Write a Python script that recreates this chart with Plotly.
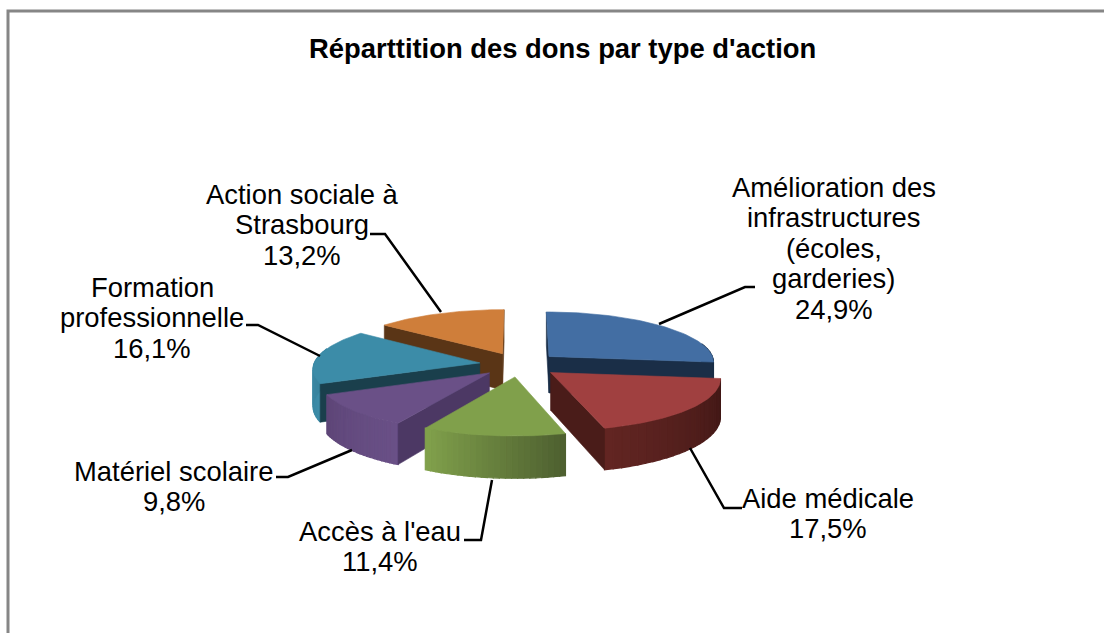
import math
import plotly.graph_objects as go

# --- data -----------------------------------------------------------------
title_text = "Réparttition des dons par type d'action"
categories = [["Amélioration des", "infrastructures", "(écoles,", "garderies)"], ["Aide médicale"],
              ["Accès à l'eau"], ["Matériel scolaire"], ["Formation", "professionnelle"],
              ["Action sociale à", "Strasbourg"]]
values = [24.9, 17.5, 11.4, 9.8, 16.1, 13.2]

top_colors = ["#436EA3", "#A04040", "#80A04B", "#6A5087", "#3C8CA8", "#CF7E3A"]
cut_colors = ["#1A2E47", "#4A1C19", "#4E6030", "#4C3864", "#1A3F4C", "#5A3516"]
side_from = ["#1A2E47", "#3F1715", "#4E6030", "#6A5087", "#3C8CA8", "#CF7E3A"]
side_to = ["#1A2E47", "#622522", "#80A04B", "#5E4678", "#357D96", "#5A3516"]
label_xy = [(833.5, 187), (828, 498), (380, 531), (173.5, 471), (152, 287), (302, 194)]
leaders = [
    [(659, 324), (745, 287), (755, 287)],
    [(690, 448), (724, 508), (742, 508)],
    [(492, 480), (481, 540), (464, 540)],
    [(352, 450), (288, 477), (276, 477)],
    [(320, 356), (258, 325), (246, 325)],
    [(441, 312), (385, 234), (370, 234)],
]

# --- pie geometry ---------------------------------------------------------
CX, CY = 519.5, 364.5
RX, RY = 166.0, 50.5
PERSP = 0.10
DEPTH = 37.0
EXPLODE = 0.242
LINE_STEP = 30.6
draw_order = [5, 0, 4, 3, 1, 2]


def project(u, v, z=0.0):
    """u right, v far (unit disc); z down in pixels."""
    w = 1 + PERSP * v
    return CX + RX * u / w, CY - RY * v / w + z / w


def rgb(c):
    return tuple(int(c[i:i + 2], 16) for i in (1, 3, 5))


def mix(a, b, t):
    a, b = rgb(a), rgb(b)
    return "rgb(%d,%d,%d)" % tuple(round(a[i] + (b[i] - a[i]) * t) for i in range(3))


fig = go.Figure()


def poly(points, color, width=0.6):
    xs = [p[0] for p in points] + [points[0][0]]
    ys = [p[1] for p in points] + [points[0][1]]
    fig.add_trace(go.Scatter(x=xs, y=ys, mode="lines", fill="toself", fillcolor=color,
                             line=dict(color=color, width=width), hoverinfo="skip",
                             showlegend=False))


total = sum(values)
starts = []
acc = 0.0
for v in values:
    starts.append(acc)
    acc += v / total * 2 * math.pi

for i in draw_order:
    a0 = starts[i]
    a1 = a0 + values[i] / total * 2 * math.pi
    mid = (a0 + a1) / 2
    ou, ov = EXPLODE * math.sin(mid), EXPLODE * math.cos(mid)

    def disc(a, z=0.0, r=1.0):
        return project(ou + r * math.sin(a), ov + r * math.cos(a), z)

    apex_t, apex_b = project(ou, ov), project(ou, ov, DEPTH)
    n = 48
    angles = [a0 + (a1 - a0) * k / n for k in range(n + 1)]

    # outer wall, gradient bands
    bands = 24
    for b in range(bands):
        seg = angles[b * n // bands:(b + 1) * n // bands + 1]
        seg = [a for a in seg if math.cos(a) < 0.3]
        if len(seg) < 2:
            continue
        col = mix(side_from[i], side_to[i], b / (bands - 1))
        poly([disc(a) for a in seg] + [disc(a, DEPTH) for a in reversed(seg)], col, 1.2)

    # radial cut faces that face the viewer
    centre = disc(mid, r=0.5)
    for a in (a0, a1):
        p = disc(a)
        q = disc(a, DEPTH)
        t = (centre[0] - apex_t[0]) / (p[0] - apex_t[0]) if abs(p[0] - apex_t[0]) > 1e-6 else 0
        edge_y = apex_t[1] + t * (p[1] - apex_t[1])
        if centre[1] < edge_y:
            poly([apex_t, p, q, apex_b], cut_colors[i])

    # top face
    poly([apex_t] + [disc(a) for a in angles], top_colors[i])

# leader lines
for pts in leaders:
    fig.add_trace(go.Scatter(x=[p[0] for p in pts], y=[p[1] for p in pts], mode="lines",
                             line=dict(color="#000000", width=2.5), hoverinfo="skip",
                             showlegend=False))

FONT = "Liberation Sans"
SIZE = 27.4
ann = []
for name, val, (x, y) in zip(categories, values, label_xy):
    lines = name + [("%.1f%%" % val).replace(".", ",")]
    for k, line in enumerate(lines):
        ann.append(dict(x=x, y=y + k * LINE_STEP, xref="x", yref="y", showarrow=False, xanchor="center",
                        yanchor="middle", text=line, font=dict(family=FONT, size=SIZE, color="#000000")))
ann.append(dict(x=562.5, y=48, xref="x", yref="y", showarrow=False, xanchor="center", yanchor="middle",
                text="<b>" + title_text + "</b>", font=dict(family=FONT, size=SIZE, color="#000000")))

frame = dict(type="path", path="M 8 640 L 8 11 L 1110 11", line=dict(color="#868686", width=3))

fig.update_layout(
    width=1104, height=633, margin=dict(l=0, r=0, t=0, b=0),
    paper_bgcolor="#FFFFFF", plot_bgcolor="#FFFFFF", showlegend=False,
    xaxis=dict(range=[0, 1104], visible=False, fixedrange=True),
    yaxis=dict(range=[633, 0], visible=False, fixedrange=True),
    annotations=ann, shapes=[frame],
)
fig.write_html("out.html", config={"displayModeBar": False},
               post_script="document.body.style.margin='0';document.documentElement.style.overflow='hidden';")
